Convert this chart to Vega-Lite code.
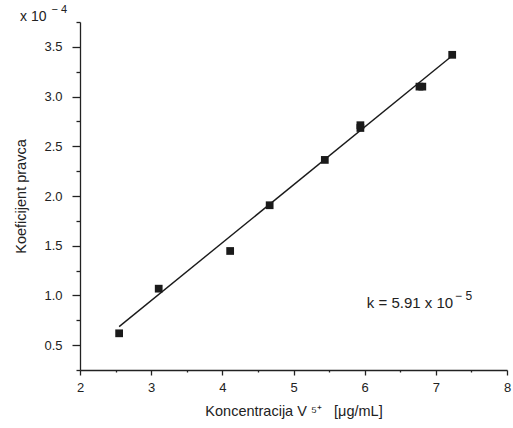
{
  "$schema": "https://vega.github.io/schema/vega-lite/v6.json",
  "width": 427,
  "height": 348,
  "autosize": {"type": "none"},
  "padding": {"left": 80, "top": 22, "right": 6, "bottom": 58},
  "background": "white",
  "config": {
    "view": {"stroke": null},
    "font": "Liberation Sans",
    "axis": {
      "grid": false,
      "domainColor": "#222222",
      "tickColor": "#222222",
      "labelColor": "#222222",
      "titleColor": "#222222",
      "labelFont": "Liberation Sans",
      "titleFont": "Liberation Sans",
      "labelFontSize": 13,
      "titleFontSize": 14.5,
      "titleFontWeight": "normal",
      "domainWidth": 1.3,
      "tickWidth": 1.3
    }
  },
  "datasets": {
    "pts": [
      {"c": 2.55, "k": 0.619},
      {"c": 3.106, "k": 1.068},
      {"c": 4.11, "k": 1.447},
      {"c": 4.665, "k": 1.907},
      {"c": 5.44, "k": 2.363},
      {"c": 5.94, "k": 2.712},
      {"c": 5.94, "k": 2.684},
      {"c": 6.77, "k": 3.10},
      {"c": 6.81, "k": 3.10},
      {"c": 7.23, "k": 3.42}
    ],
    "fit": [
      {"c": 2.55, "k": 0.686},
      {"c": 7.23, "k": 3.41}
    ],
    "notes": [
      {"c": 1.157, "k": 3.80, "t": "x 10", "kind": "base"},
      {"c": 1.60, "k": 3.87, "t": "− 4", "kind": "sup"},
      {"c": 6.03, "k": 0.924, "t": "k = 5.91 x 10", "kind": "note"},
      {"c": 7.27, "k": 0.99, "t": "− 5", "kind": "notesup"}
    ]
  },
  "resolve": {"axis": {"x": "independent", "y": "independent"}},
  "layer": [
    {
      "data": {"name": "fit"},
      "mark": {"type": "line", "color": "#1a1a1a", "strokeWidth": 1.4},
      "encoding": {
        "x": {
          "field": "c", "type": "quantitative",
          "scale": {"domain": [2, 8], "nice": false, "zero": false},
          "axis": {"orient": "bottom", "values": [2.5, 3.5, 4.5, 5.5, 6.5, 7.5], "labels": false, "domain": false, "tickSize": 2, "title": null}
        },
        "y": {
          "field": "k", "type": "quantitative",
          "scale": {"domain": [0.25, 3.75], "nice": false, "zero": false},
          "axis": {"orient": "left", "values": [0.25, 0.75, 1.25, 1.75, 2.25, 2.75, 3.25, 3.75], "labels": false, "domain": false, "tickSize": 4, "title": null}
        }
      }
    },
    {
      "data": {"name": "pts"},
      "mark": {"type": "point", "shape": "square", "filled": true, "size": 60, "color": "#1a1a1a", "opacity": 1},
      "encoding": {
        "x": {
          "field": "c", "type": "quantitative",
          "scale": {"domain": [2, 8], "nice": false, "zero": false},
          "axis": {"orient": "bottom", "values": [2, 3, 4, 5, 6, 7, 8], "format": "d", "tickSize": 5, "labelPadding": 6, "title": "Koncentracija V ⁵⁺\u00a0\u00a0\u00a0[μg/mL]", "titlePadding": 10, "labelFlush": false}
        },
        "y": {
          "field": "k", "type": "quantitative",
          "scale": {"domain": [0.25, 3.75], "nice": false, "zero": false},
          "axis": {"orient": "left", "values": [0.5, 1.0, 1.5, 2.0, 2.5, 3.0, 3.5], "format": ".1f", "tickSize": 8, "labelPadding": 10, "title": "Koeficijent pravca", "titlePadding": 15, "labelFlush": false}
        }
      }
    },
    {
      "data": {"name": "notes"},
      "mark": {"type": "text", "align": "left", "baseline": "middle", "color": "#222222", "font": "Liberation Sans", "clip": false},
      "encoding": {
        "x": {"field": "c", "type": "quantitative", "scale": {"domain": [2, 8], "nice": false, "zero": false}, "axis": null},
        "y": {"field": "k", "type": "quantitative", "scale": {"domain": [0.25, 3.75], "nice": false, "zero": false}, "axis": null},
        "text": {"field": "t"},
        "size": {"field": "kind", "type": "nominal", "scale": {"type": "ordinal", "domain": ["base", "sup", "note", "notesup"], "range": [14, 11, 15, 12]}, "legend": null}
      }
    }
  ]
}
